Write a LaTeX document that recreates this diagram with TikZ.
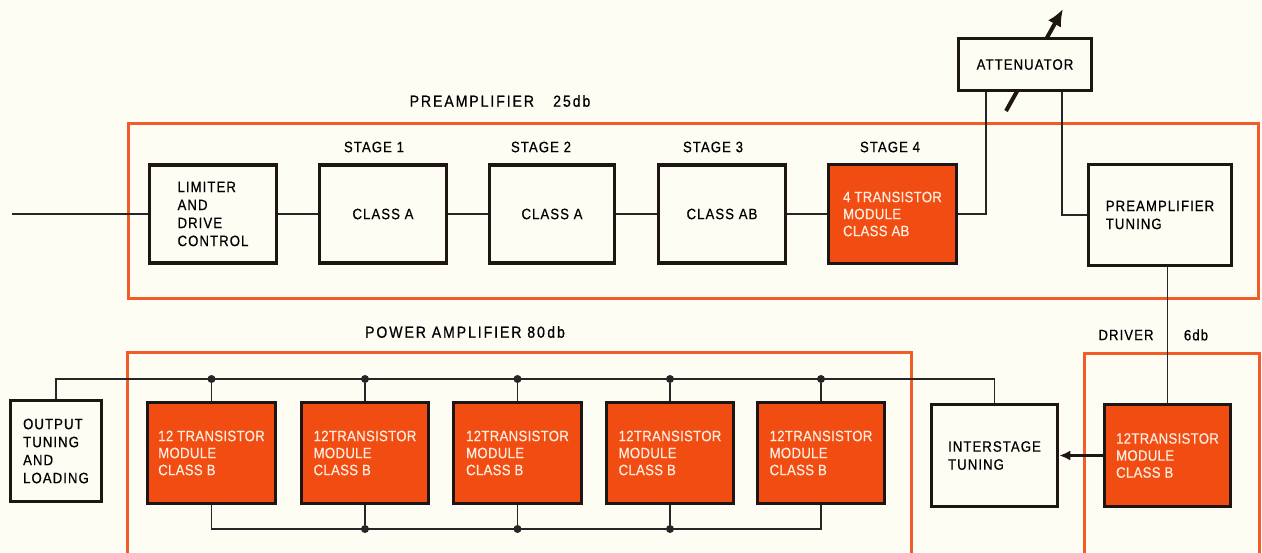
\documentclass[tikz,border=0pt]{standalone}
\usepackage{fontspec}
\setmainfont{Liberation Sans}[FakeStretch=0.88,LetterSpace=7,FakeBold=0.6]
\newfontfamily\modfont{Liberation Sans}[FakeStretch=0.88,LetterSpace=2,FakeBold=0.6]
\newfontfamily\labfont{Liberation Sans}[FakeStretch=0.88,LetterSpace=12,FakeBold=0.6]
\usetikzlibrary{arrows.meta}
\definecolor{bg}{RGB}{253,253,244}
\definecolor{redor}{RGB}{241,76,18}
\definecolor{frameor}{RGB}{242,92,40}
\definecolor{modtext}{RGB}{255,236,222}
\definecolor{boxline}{RGB}{30,22,18}
\begin{document}
\begin{tikzpicture}[x=1pt,y=-1pt,
  wbox/.style={draw=boxline, line width=3.5pt, fill=bg, inner sep=0, align=left,
    font=\fontsize{15}{18}\selectfont},
  obox/.style={wbox, fill=redor, text=modtext, font=\modfont\fontsize{15}{17}\selectfont},
  frame/.style={draw=frameor, line width=3pt},
  wire/.style={draw=black!85, line width=1.3pt},
  dot/.style={circle, fill=black!85, inner sep=0, minimum size=8pt},
  lab/.style={font=\labfont\fontsize{16}{18}\selectfont, inner sep=0},
  slab/.style={font=\fontsize{15}{17}\selectfont, inner sep=0}]
\useasboundingbox (0,0) rectangle (1262,552);
\fill[bg] (0,0) rectangle (1262,552);
% frames
\draw[frame] (128,123) rectangle (1258,298);
\draw[frame] (127,560) -- (127,352) -- (911,352) -- (911,560);
\draw[frame] (1084,560) -- (1084,353) -- (1259,353) -- (1259,560);
% labels
\node[lab] (preL) at (500,101) {PREAMPLIFIER\hspace{1.2em}25db};
\node[lab] (powL) at (465,332) {POWER AMPLIFIER 80\hspace{0.15em}db};
\node[slab] (drvL) at (1126,335) {DRIVER};
\node[slab] (dbL) at (1196,335) {6db};
\node[slab] (st1) at (374,147) {STAGE 1};
\node[slab] (st2) at (541,147) {STAGE 2};
\node[slab] (st3) at (713,147) {STAGE 3};
\node[slab] (st4) at (890,147) {STAGE 4};
% attenuator variable arrow (behind box)
\coordinate (aa) at (1006,111);
\coordinate (ab) at (1063,9);
\draw[line width=4pt, draw=boxline, -{Latex[length=17pt,width=15pt]}] (aa) -- (ab);
% boxes
\node[wbox, minimum width=127, minimum height=98] (lim) at (213,214) {LIMITER\\AND\\DRIVE\\CONTROL};
\node[wbox, minimum width=127, minimum height=98] (s1) at (383,214) {CLASS A};
\node[wbox, minimum width=125, minimum height=98] (s2) at (552,214) {CLASS A};
\node[wbox, minimum width=127, minimum height=98] (s3) at (722,214) {CLASS AB};
\node[obox, minimum width=128, minimum height=99] (s4) at (892.5,214) {4 TRANSISTOR\\MODULE\\CLASS AB};
\node[wbox, minimum width=133, minimum height=52] (att) at (1025,64.5) {ATTENUATOR};
\node[wbox, minimum width=143, minimum height=101] (ptun) at (1160,215) {PREAMPLIFIER\\TUNING};
\node[obox, minimum width=126, minimum height=102] (drv) at (1167.5,455.5) {12TRANSISTOR\\MODULE\\CLASS B};
\node[wbox, minimum width=126, minimum height=102] (ist) at (994.5,455.5) {INTERSTAGE\\TUNING};
\node[wbox, minimum width=91, minimum height=101] (out) at (56,451) {OUTPUT\\TUNING\\AND\\LOADING};
\node[obox, minimum width=128, minimum height=101] (m1) at (211.5,453) {12 TRANSISTOR\\MODULE\\CLASS B};
\node[obox, minimum width=127, minimum height=101] (m2) at (365,453) {12TRANSISTOR\\MODULE\\CLASS B};
\node[obox, minimum width=128, minimum height=101] (m3) at (517.5,453) {12TRANSISTOR\\MODULE\\CLASS B};
\node[obox, minimum width=127, minimum height=101] (m4) at (670,453) {12TRANSISTOR\\MODULE\\CLASS B};
\node[obox, minimum width=127, minimum height=101] (m5) at (821,453) {12TRANSISTOR\\MODULE\\CLASS B};
% preamp chain
\coordinate (in) at (12,214);
\draw[wire] (in) -- (lim.west);
\draw[wire] (lim) -- (s1);
\draw[wire] (s1) -- (s2);
\draw[wire] (s2) -- (s3);
\draw[wire] (s3) -- (s4);
\draw[wire] (s4.east) -| ([xshift=-39]att.south);
\draw[wire] ([xshift=37]att.south) |- (ptun.west);
\draw[wire] (drv.north) -- (drv.north |- ptun.south);
\draw[line width=3pt, draw=boxline, -{Latex[length=11pt,width=10pt]}] (drv.west) -- (ist.east);
% power amp buses
\coordinate (busT) at (0,379);
\coordinate (busB) at (0,529);
\draw[wire] (out.north) |- (busT -| ist.north) -- (ist.north);
\foreach \m in {m1,m2,m3,m4,m5}{
  \node[dot] (t\m) at (\m.north |- busT) {};
  \draw[wire] (t\m) -- (\m.north);
}
\draw[wire] (m1.south) |- (busB -| m5.south) -- (m5.south);
\foreach \m in {m2,m3,m4}{
  \node[dot] (b\m) at (\m.south |- busB) {};
  \draw[wire] (b\m) -- (\m.south);
}
\end{tikzpicture}
\end{document}
